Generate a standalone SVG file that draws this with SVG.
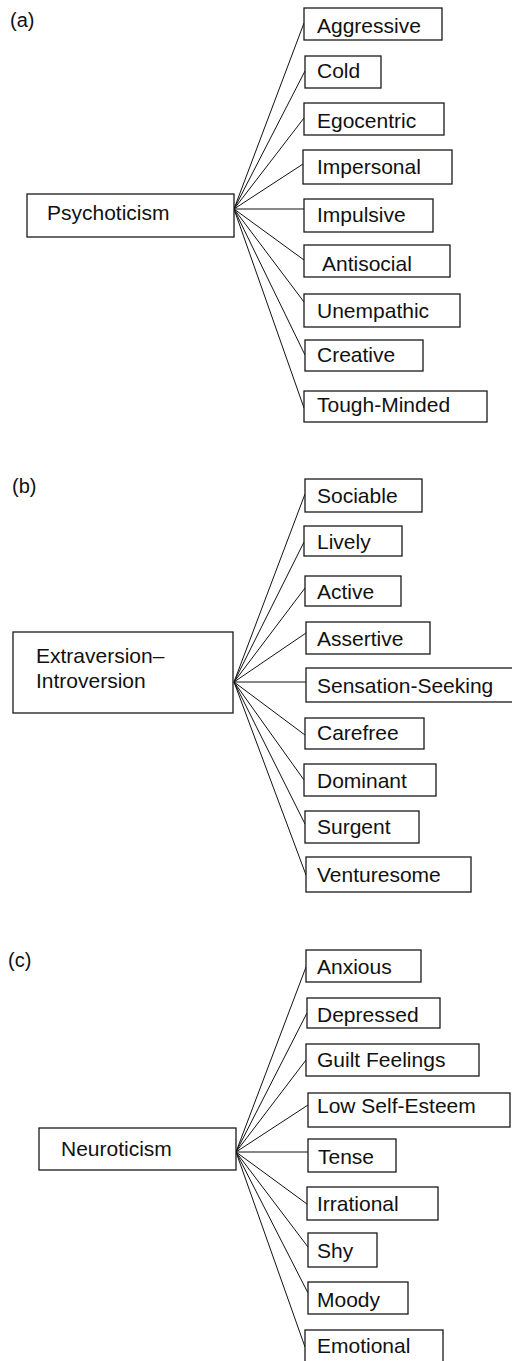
<svg xmlns="http://www.w3.org/2000/svg" width="512" height="1361" viewBox="0 0 512 1361">
  <style>
    .box { fill: #fff; stroke: #1a1a1a; stroke-width: 1.3; }
    .lbl { font-family: "Liberation Sans", Arial, sans-serif; font-size: 21px; fill: #111; }
    .tag { font-family: "Liberation Sans", Arial, sans-serif; font-size: 20px; fill: #111; }
    .links line { stroke: #111; stroke-width: 1; }
  </style>
  <rect width="512" height="1361" fill="#fff"/>

  <!-- panel labels -->
  <text class="tag" x="10" y="27">(a)</text>
  <text class="tag" x="12" y="493">(b)</text>
  <text class="tag" x="8" y="967">(c)</text>

  <!-- connectors -->
  <g id="connectors" class="links">
    <!-- (a) Psychoticism -->
    <line x1="234" y1="209" x2="304" y2="23"/>
    <line x1="234" y1="209" x2="305" y2="71"/>
    <line x1="234" y1="209" x2="304" y2="118"/>
    <line x1="234" y1="209" x2="303" y2="164"/>
    <line x1="234" y1="209" x2="304" y2="209"/>
    <line x1="234" y1="209" x2="304" y2="260"/>
    <line x1="234" y1="209" x2="304" y2="302"/>
    <line x1="234" y1="209" x2="305" y2="355"/>
    <line x1="234" y1="209" x2="304" y2="408"/>
    <!-- (b) Extraversion–Introversion -->
    <line x1="234" y1="682" x2="305" y2="494"/>
    <line x1="234" y1="682" x2="304" y2="542"/>
    <line x1="234" y1="682" x2="305" y2="588"/>
    <line x1="234" y1="682" x2="306" y2="633"/>
    <line x1="234" y1="682" x2="306" y2="682"/>
    <line x1="234" y1="682" x2="305" y2="735"/>
    <line x1="234" y1="682" x2="304" y2="780"/>
    <line x1="234" y1="682" x2="305" y2="824"/>
    <line x1="234" y1="682" x2="306" y2="875"/>
    <!-- (c) Neuroticism -->
    <line x1="236" y1="1152" x2="306" y2="967"/>
    <line x1="236" y1="1152" x2="307" y2="1013"/>
    <line x1="236" y1="1152" x2="306" y2="1060"/>
    <line x1="236" y1="1152" x2="308" y2="1105"/>
    <line x1="236" y1="1152" x2="308" y2="1152"/>
    <line x1="236" y1="1152" x2="307" y2="1204"/>
    <line x1="236" y1="1152" x2="308" y2="1247"/>
    <line x1="236" y1="1152" x2="308" y2="1293"/>
    <line x1="236" y1="1152" x2="305" y2="1347"/>
  </g>

  <!-- (a) -->
  <g id="psychoticism"><rect class="box" x="27" y="194" width="207" height="43"/><text class="lbl" x="47" y="220">Psychoticism</text></g>
  <g id="aggressive"><rect class="box" x="304" y="8" width="138" height="32"/><text class="lbl" x="317" y="33">Aggressive</text></g>
  <g id="cold"><rect class="box" x="305" y="56" width="76" height="32"/><text class="lbl" x="317" y="78">Cold</text></g>
  <g id="egocentric"><rect class="box" x="304" y="103" width="140" height="32"/><text class="lbl" x="317" y="128">Egocentric</text></g>
  <g id="impersonal"><rect class="box" x="303" y="150" width="149" height="34"/><text class="lbl" x="317" y="174">Impersonal</text></g>
  <g id="impulsive"><rect class="box" x="304" y="199" width="129" height="33"/><text class="lbl" x="317" y="222">Impulsive</text></g>
  <g id="antisocial"><rect class="box" x="304" y="245" width="146" height="32"/><text class="lbl" x="322" y="271">Antisocial</text></g>
  <g id="unempathic"><rect class="box" x="304" y="294" width="156" height="33"/><text class="lbl" x="317" y="318">Unempathic</text></g>
  <g id="creative"><rect class="box" x="305" y="340" width="118" height="31"/><text class="lbl" x="317" y="362">Creative</text></g>
  <g id="tough-minded"><rect class="box" x="304" y="391" width="183" height="31"/><text class="lbl" x="317" y="412">Tough-Minded</text></g>

  <!-- (b) -->
  <g id="extraversion-introversion"><rect class="box" x="13" y="632" width="220" height="81"/><text class="lbl" x="36" y="663">Extraversion–</text><text class="lbl" x="36" y="688">Introversion</text></g>
  <g id="sociable"><rect class="box" x="305" y="479" width="117" height="33"/><text class="lbl" x="317" y="503">Sociable</text></g>
  <g id="lively"><rect class="box" x="304" y="526" width="98" height="30"/><text class="lbl" x="317" y="549">Lively</text></g>
  <g id="active"><rect class="box" x="305" y="576" width="96" height="30"/><text class="lbl" x="317" y="599">Active</text></g>
  <g id="assertive"><rect class="box" x="306" y="622" width="124" height="32"/><text class="lbl" x="317" y="646">Assertive</text></g>
  <g id="sensation-seeking"><rect class="box" x="306" y="668" width="210" height="34"/><text class="lbl" x="317" y="693">Sensation-Seeking</text></g>
  <g id="carefree"><rect class="box" x="305" y="718" width="119" height="31"/><text class="lbl" x="317" y="740">Carefree</text></g>
  <g id="dominant"><rect class="box" x="304" y="764" width="132" height="32"/><text class="lbl" x="317" y="788">Dominant</text></g>
  <g id="surgent"><rect class="box" x="305" y="811" width="114" height="32"/><text class="lbl" x="317" y="834">Surgent</text></g>
  <g id="venturesome"><rect class="box" x="306" y="857" width="165" height="35"/><text class="lbl" x="317" y="882">Venturesome</text></g>

  <!-- (c) -->
  <g id="neuroticism"><rect class="box" x="39" y="1128" width="197" height="42"/><text class="lbl" x="61" y="1156">Neuroticism</text></g>
  <g id="anxious"><rect class="box" x="306" y="950" width="115" height="32"/><text class="lbl" x="317" y="974">Anxious</text></g>
  <g id="depressed"><rect class="box" x="307" y="998" width="133" height="30"/><text class="lbl" x="317" y="1022">Depressed</text></g>
  <g id="guilt-feelings"><rect class="box" x="306" y="1044" width="173" height="32"/><text class="lbl" x="317" y="1067">Guilt Feelings</text></g>
  <g id="low-self-esteem"><rect class="box" x="308" y="1093" width="202" height="34"/><text class="lbl" x="317" y="1113">Low Self-Esteem</text></g>
  <g id="tense"><rect class="box" x="308" y="1139" width="88" height="33"/><text class="lbl" x="318" y="1164">Tense</text></g>
  <g id="irrational"><rect class="box" x="307" y="1187" width="131" height="33"/><text class="lbl" x="317" y="1211">Irrational</text></g>
  <g id="shy"><rect class="box" x="308" y="1233" width="69" height="34"/><text class="lbl" x="317" y="1258">Shy</text></g>
  <g id="moody"><rect class="box" x="308" y="1282" width="100" height="32"/><text class="lbl" x="317" y="1307">Moody</text></g>
  <g id="emotional"><rect class="box" x="305" y="1330" width="138" height="40"/><text class="lbl" x="317" y="1353">Emotional</text></g>
</svg>
